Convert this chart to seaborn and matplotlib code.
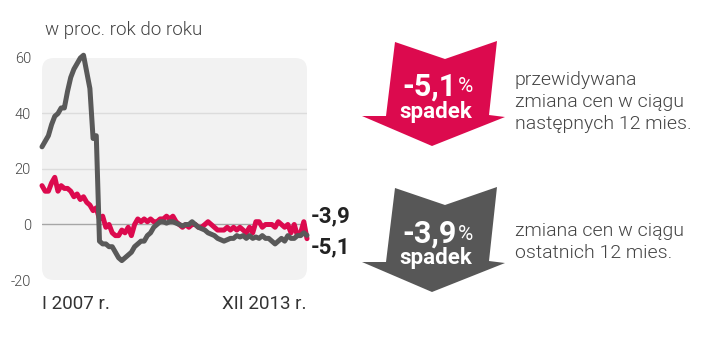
import numpy as np
import pandas as pd
import matplotlib
matplotlib.use("Agg")
import matplotlib.pyplot as plt
from matplotlib.patches import FancyBboxPatch, Polygon
import seaborn as sns

# ---- data (monthly, I 2007 .. XII 2013), % y/y ----
grey_vals = [28, 30, 32, 36, 39, 40, 42, 42, 48, 53, 56, 58, 60, 61, 55, 49,
             31, 32, -6, -7, -7, -8, -8, -10, -12, -13, -12, -11, -10, -8,
             -7, -6, -6, -4, -3, -1, 0, 1, 1, 0.5, 1, 1, 0.5, 0, -0.5, 0,
             0, 1, 0, -1, -1.5, -2, -3, -3.5, -4, -5, -5.5, -6, -5.5, -5,
             -5, -4, -4.5, -4, -5, -4, -5, -4.5, -5, -4, -5, -5, -6, -7,
             -6, -5, -6, -4, -5, -5, -4, -4, -3, -3.9]
red_vals = [14, 12, 12, 15, 17, 12, 14, 13, 13, 12, 10, 11, 9, 10, 8, 7,
            5, 6, 2, 3, -1, 0, -3, -4, -4, -2, -3, -1, -4, 0, 2, 1, 2, 1,
            2, 1, 1, 2, 2, 3, 2, 3, 1, 0, -1, 0, -1, 0, 0, -1, -1, 0, 1, 0,
            -1, -2, -2, -2, -1, -2, -1, -2, -1, -2, -3, -1, -3, 1, 1, -1,
            0, 0, 0, -1, 1, 0, -1, 0, -3, 0, -4, -3, 1, -5.1]
x_labels = ["I 2007 r.", "XII 2013 r."]
y_ticks = [-20, 0, 20, 40, 60]
end_labels = ["-3,9", "-5,1"]
arrow_values = ["-5,1", "-3,9"]
arrow_texts = ["przewidywana\nzmiana cen w ciągu\nnastępnych 12 mies.",
               "zmiana cen w ciągu\nostatnich 12 mies."]
title = "w proc. rok do roku"

RED = "#dc0a4e"
GREY = "#595959"
TXT = "#444444"

df = pd.DataFrame({
    "m": np.arange(len(grey_vals)),
    "grey": grey_vals,
    "red": red_vals,
})

sns.set_style("white")
plt.rcParams["font.family"] = ["Roboto", "DejaVu Sans"]

W, H = 720, 352
fig = plt.figure(figsize=(W / 100, H / 100), dpi=100)

# overlay in pixel coordinates (background decorations)
ov = fig.add_axes([0, 0, 1, 1], zorder=0)
ov.set_xlim(0, W)
ov.set_ylim(H, 0)
ov.axis("off")

ov.add_patch(FancyBboxPatch((42, 58), 265, 222,
                            boxstyle="round,pad=0,rounding_size=12",
                            fc="#f2f2f2", ec="none"))

# main chart
L, R, T, B = 42, 307, 58, 280
ax = fig.add_axes([L / W, 1 - B / H, (R - L) / W, (B - T) / H], zorder=1)
ax.set_facecolor("none")
for s in ax.spines.values():
    s.set_visible(False)

for yv in [20, 40]:
    ax.axhline(yv, color="#dcdcdc", lw=1.0, zorder=0)
ax.axhline(0, color="#a6a6a6", lw=1.0, zorder=0)

sns.lineplot(data=df, x="m", y="red", ax=ax, color=RED, lw=3.6,
             solid_joinstyle="round", solid_capstyle="round", zorder=2,
             clip_on=False)
sns.lineplot(data=df, x="m", y="grey", ax=ax, color=GREY, lw=3.6,
             solid_joinstyle="round", solid_capstyle="round", zorder=3,
             clip_on=False)

ax.set_xlim(0, len(grey_vals) - 1)
ax.set_ylim(-20, 60)
ax.set_yticks(y_ticks)
ax.set_yticklabels([str(v) for v in y_ticks], color=TXT, fontsize=10.5,
                   fontweight=300)
ax.tick_params(axis="y", length=0, pad=8)
ax.set_xticks([0, len(grey_vals) - 1])
ax.set_xticklabels(x_labels, color="#333333", fontsize=13.5)
ax.tick_params(axis="x", length=0, pad=11)
xt = ax.get_xticklabels()
xt[0].set_ha("left")
xt[1].set_ha("right")
ax.set_xlabel("")
ax.set_ylabel("")

# end labels
ax.annotate(end_labels[0], xy=(1, grey_vals[-1]), xycoords=("axes fraction", "data"),
            xytext=(3, 14), textcoords="offset points", ha="left", va="center",
            fontsize=16, fontweight="bold", color="#222222")
ax.annotate(end_labels[1], xy=(1, red_vals[-1]), xycoords=("axes fraction", "data"),
            xytext=(3, -6), textcoords="offset points", ha="left", va="center",
            fontsize=16, fontweight="bold", color="#222222")

# title
ov.text(45, 30, title, ha="left", va="center", fontsize=13.5, color=TXT,
        fontweight=300)

# arrows
def arrow(y0, color):
    pts = [(395, y0), (445, y0 + 17), (497, y0 - 1), (489, y0 + 73),
           (505, y0 + 75), (432, y0 + 104), (362, y0 + 74), (386, y0 + 74)]
    ov.add_patch(Polygon(pts, closed=True, fc=color, ec="none"))

arrow(42, RED)
arrow(188, "#575757")

for (yc, val) in [(87, arrow_values[0]), (234, arrow_values[1])]:
    ov.text(458, yc, "%", ha="left", va="center", fontsize=15,
            color="white")
    ov.text(457, yc, val, ha="right", va="center", fontsize=22,
            fontweight="bold", color="white")
for (yc) in [112, 258]:
    ov.text(436, yc, "spadek", ha="center", va="center", fontsize=16,
            fontweight="bold", color="white")

ov.text(515, 102, arrow_texts[0], ha="left", va="center", fontsize=14,
        color=TXT, linespacing=1.3, fontweight=300)
ov.text(515, 242, arrow_texts[1], ha="left", va="center", fontsize=14,
        color=TXT, linespacing=1.3, fontweight=300)

fig.savefig("out.png", dpi=100)
